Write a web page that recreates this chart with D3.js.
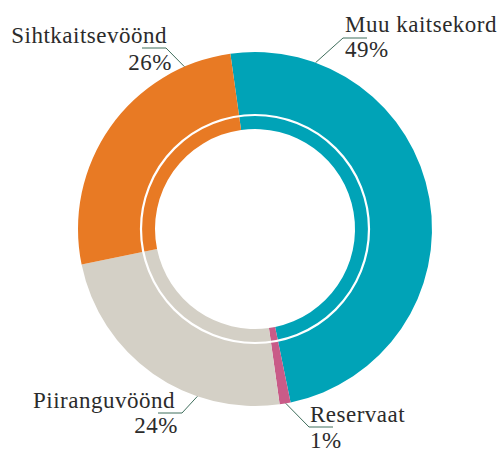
<!DOCTYPE html>
<html>
<head>
<meta charset="utf-8">
<script src="https://cdn.jsdelivr.net/npm/d3@7"></script>
<style>
  html, body { margin: 0; padding: 0; background: #fff; }
  svg { display: block; }
  text { font-family: "Liberation Serif", "Times New Roman", serif; font-size: 23px; fill: #2b2b2b; letter-spacing: 0.5px; }
</style>
</head>
<body>
<svg id="chart" width="502" height="453"></svg>
<script>
const categories = ["Muu kaitsekord", "Reservaat", "Piiranguvöönd", "Sihtkaitsevöönd"]
const shares = [49, 1, 24, 26]
const colors = ["#00a3b7", "#c95b88", "#d4d0c6", "#e87a24"]

// label placement: angle of the leader tip on the ring (deg, clockwise from top),
// elbow of the leader, direction of the short horizontal tick, text anchor
const labelLayout = [
    {angle: 20,  elbow: [343, 38],  dir: 1,  x: 345, nameY: 32,  pctX: 345, pctY: 57,  anchor: "start"},
    {angle: 170, elbow: [309, 427], dir: 1,  x: 310, nameY: 422, pctX: 310, pctY: 448, anchor: "start"},
    {angle: 199, elbow: [182, 413], dir: -1, x: 175, nameY: 408, pctX: 178, pctY: 433, anchor: "end"},
    {angle: 336.5, elbow: [166, 48], dir: -1, x: 167, nameY: 43, pctX: 172, pctY: 70, anchor: "end"},
]

const cx = 255, cy = 229
const outerR = 177, innerR = 100, splitR = 114
const startDeg = -8

const svg = d3.select("#chart")
const g = svg.append("g").attr("transform", `translate(${cx},${cy})`)

const pie = d3.pie()
    .sort(null)
    .value(d => d)
    .startAngle(startDeg * Math.PI / 180)
    .endAngle(startDeg * Math.PI / 180 + 2 * Math.PI)

const arc = d3.arc().innerRadius(innerR).outerRadius(outerR)

g.selectAll("path.slice")
    .data(pie(shares))
    .join("path")
        .attr("class", "slice")
        .attr("d", arc)
        .attr("fill", (d, i) => colors[i])

// thin white ring splitting the band
g.append("circle")
    .attr("r", splitR)
    .attr("fill", "none")
    .attr("stroke", "#fff")
    .attr("stroke-width", 2.2)

// leaders and labels
const labels = svg.append("g")
categories.forEach((name, i) => {
    let l = labelLayout[i]
    let a = l.angle * Math.PI / 180
    let tx = cx + Math.sin(a) * outerR
    let ty = cy - Math.cos(a) * outerR
    let [ex, ey] = l.elbow
    labels.append("polyline")
        .attr("points", `${tx},${ty} ${ex},${ey} ${ex + l.dir * 24},${ey}`)
        .attr("fill", "none")
        .attr("stroke", "#3f6e5c")
        .attr("stroke-width", 1)
    labels.append("text")
        .attr("x", l.x)
        .attr("y", l.nameY)
        .attr("text-anchor", l.anchor)
        .text(name)
    labels.append("text")
        .attr("x", l.pctX)
        .attr("y", l.pctY)
        .attr("text-anchor", l.anchor)
        .text(shares[i] + "%")
})
</script>
</body>
</html>
